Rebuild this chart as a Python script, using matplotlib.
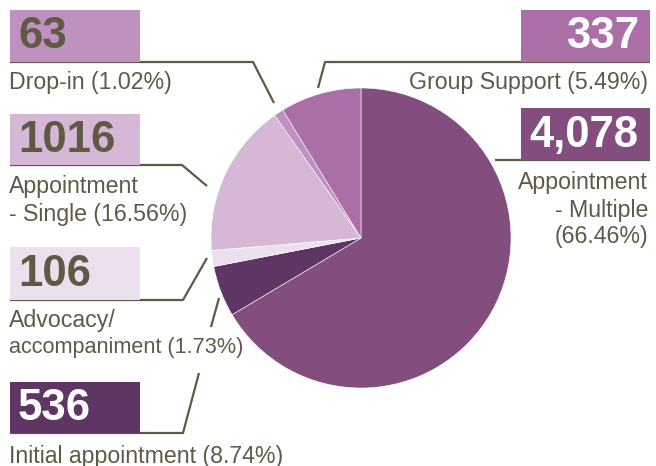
import matplotlib.pyplot as plt

# values shown in the label boxes
categories = ['Appointment - Multiple', 'Initial appointment', 'Advocacy/accompaniment',
              'Appointment - Single', 'Drop-in', 'Group Support']
counts = ['4,078', '536', '106', '1016', '63', '337']
percents = [66.46, 8.74, 1.73, 16.56, 1.02, 5.49]
# slice sizes as drawn in the picture (Initial and Group slices are swapped there)
pie_sizes = [4078, 337, 106, 1016, 63, 536]
colors = ['#834D7E', '#5E3563', '#EDE0EE', '#D5B7D6', '#BF91BE', '#AA6FA7']

TXT = '#5E5A45'
W, H = 656, 466

plt.rcParams['font.family'] = ['Liberation Sans', 'DejaVu Sans']

fig = plt.figure(figsize=(W / 100, H / 100), dpi=100)
ax = fig.add_axes([0, 0, 1, 1])


def Y(y):
    # image pixel row -> data y
    return H - y


ax.pie(pie_sizes, colors=colors, startangle=90, counterclock=False,
       center=(361, Y(238)), radius=150, frame=True,
       wedgeprops=dict(edgecolor='white', linewidth=0.4))
ax.set_xlim(0, W)
ax.set_ylim(0, H)
ax.set_aspect('equal')
ax.axis('off')


def box(x0, y0, x1, y1, color, num, num_color, align='left'):
    ax.add_patch(plt.Rectangle((x0, Y(y1)), x1 - x0, y1 - y0, color=color, lw=0, zorder=3))
    if align == 'left':
        ax.text(x0 + 8, Y((y0 + y1) / 2 + 1), num, ha='left', va='center', fontsize=31.5,
                fontweight='bold', color=num_color, zorder=4)
    else:
        ax.text(x1 - 11, Y((y0 + y1) / 2 + 1), num, ha='right', va='center', fontsize=31.5,
                fontweight='bold', color=num_color, zorder=4)


def leader(pts):
    xs = [p[0] for p in pts]
    ys = [Y(p[1]) for p in pts]
    ax.plot(xs, ys, color=TXT, lw=1.6, zorder=2, solid_capstyle='butt')


def label(x, y, s, ha='left', size=16.7):
    ax.text(x, Y(y), s, ha=ha, va='center', fontsize=size, color=TXT, zorder=5)


# Drop-in
box(10, 10, 140, 62, colors[4], counts[4], TXT)
leader([(10, 62), (253, 62), (274, 103)])
label(9, 83, f'Drop-in ({percents[4]:.2f}%)')

# Appointment - Single
box(10, 114, 140, 165, colors[3], counts[3], TXT)
leader([(10, 165), (182, 165), (207, 186)])
label(9, 187, 'Appointment')
label(9, 215, f'- Single ({percents[3]:.2f}%)')

# Advocacy
box(10, 247, 140, 300, colors[2], counts[2], TXT)
leader([(10, 300), (183, 300), (207, 258)])
label(9, 320, 'Advocacy/')
label(9, 348, f'accompaniment ({percents[2]:.2f}%)', size=15.6)

# Initial appointment (leader broken around the text above)
box(10, 382, 140, 433, colors[1], counts[1], 'white')
leader([(10, 433), (183, 433), (199, 373)])
leader([(211, 327), (219, 298)])
label(9, 456, f'Initial appointment ({percents[1]:.2f}%)')

# Group Support
box(521, 10, 650, 62, colors[5], counts[5], 'white', align='right')
leader([(650, 62), (325, 62), (318, 88)])
label(648, 82, f'Group Support ({percents[5]:.2f}%)', ha='right')

# Appointment - Multiple
box(521, 108, 650, 160, colors[0], counts[0], 'white', align='right')
leader([(650, 160), (495, 160)])
label(648, 183, 'Appointment', ha='right')
label(648, 210, '- Multiple', ha='right')
label(648, 237, f'({percents[0]:.2f}%)', ha='right')

fig.savefig('out.png', dpi=100)
